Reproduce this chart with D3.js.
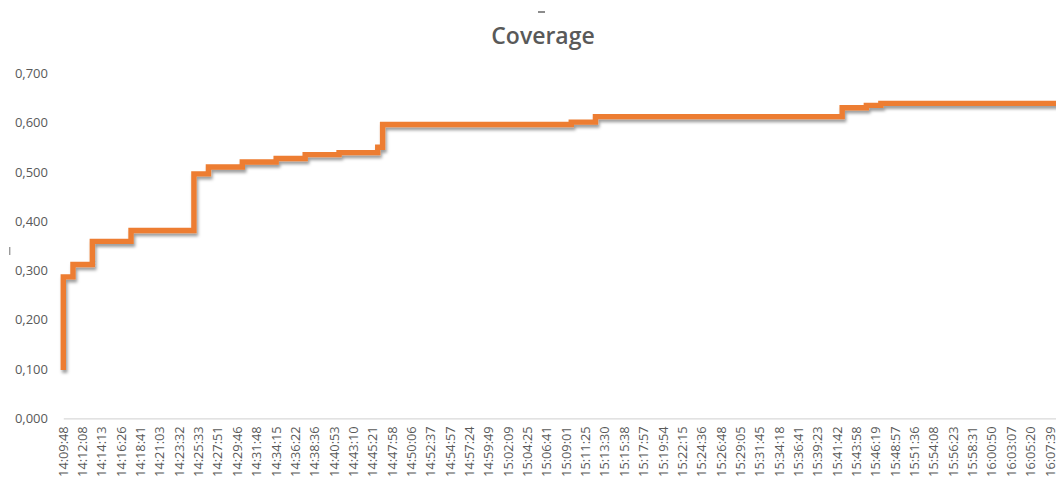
<!DOCTYPE html>
<html>
<head>
<meta charset="utf-8">
<script src="https://cdn.jsdelivr.net/npm/d3@7"></script>
<style>
  html, body { margin: 0; padding: 0; background: #fff; }
  svg { display: block; overflow: hidden; }
  text { font-family: "Open Sans", "Segoe UI", sans-serif; fill: #595959; }
</style>
</head>
<body>
<svg id="chart" width="1056" height="482"></svg>
<script>
// Timestamps printed on the category axis (one every four samples)
const timeLabels = [
  "14:09:48", "14:12:08", "14:14:13", "14:16:26", "14:18:41", "14:21:03",
  "14:23:32", "14:25:33", "14:27:51", "14:29:46", "14:31:48", "14:34:15",
  "14:36:22", "14:38:36", "14:40:53", "14:43:10", "14:45:21", "14:47:58",
  "14:50:06", "14:52:37", "14:54:57", "14:57:24", "14:59:49", "15:02:09",
  "15:04:25", "15:06:41", "15:09:01", "15:11:25", "15:13:30", "15:15:38",
  "15:17:57", "15:19:54", "15:22:15", "15:24:36", "15:26:48", "15:29:05",
  "15:31:45", "15:34:18", "15:36:41", "15:39:23", "15:41:42", "15:43:58",
  "15:46:19", "15:48:57", "15:51:36", "15:54:08", "15:56:23", "15:58:31",
  "16:00:50", "16:03:07", "16:05:20", "16:07:39"
];

// Samples between two printed timestamps
const samplesPerLabel = 4;

// Coverage samples, one row per printed timestamp
const coverage = [
  0.098, 0.287, 0.287, 0.312,
  0.312, 0.312, 0.312, 0.359,
  0.359, 0.359, 0.359, 0.359,
  0.359, 0.359, 0.359, 0.381,
  0.381, 0.381, 0.381, 0.381,
  0.381, 0.381, 0.381, 0.381,
  0.381, 0.381, 0.381, 0.381,
  0.496, 0.496, 0.496, 0.510,
  0.510, 0.510, 0.510, 0.510,
  0.510, 0.510, 0.520, 0.520,
  0.520, 0.520, 0.520, 0.520,
  0.520, 0.527, 0.527, 0.527,
  0.527, 0.527, 0.527, 0.535,
  0.535, 0.535, 0.535, 0.535,
  0.535, 0.535, 0.539, 0.539,
  0.539, 0.539, 0.539, 0.539,
  0.539, 0.539, 0.550, 0.596,
  0.596, 0.596, 0.596, 0.596,
  0.596, 0.596, 0.596, 0.596,
  0.596, 0.596, 0.596, 0.596,
  0.596, 0.596, 0.596, 0.596,
  0.596, 0.596, 0.596, 0.596,
  0.596, 0.596, 0.596, 0.596,
  0.596, 0.596, 0.596, 0.596,
  0.596, 0.596, 0.596, 0.596,
  0.596, 0.596, 0.596, 0.596,
  0.596, 0.596, 0.601, 0.601,
  0.601, 0.601, 0.601, 0.612,
  0.612, 0.612, 0.612, 0.612,
  0.612, 0.612, 0.612, 0.612,
  0.612, 0.612, 0.612, 0.612,
  0.612, 0.612, 0.612, 0.612,
  0.612, 0.612, 0.612, 0.612,
  0.612, 0.612, 0.612, 0.612,
  0.612, 0.612, 0.612, 0.612,
  0.612, 0.612, 0.612, 0.612,
  0.612, 0.612, 0.612, 0.612,
  0.612, 0.612, 0.612, 0.612,
  0.612, 0.612, 0.612, 0.612,
  0.612, 0.612, 0.612, 0.612,
  0.612, 0.612, 0.630, 0.630,
  0.630, 0.630, 0.630, 0.635,
  0.635, 0.635, 0.639, 0.639,
  0.639, 0.639, 0.639, 0.639,
  0.639, 0.639, 0.639, 0.639,
  0.639, 0.639, 0.639, 0.639,
  0.639, 0.639, 0.639, 0.639,
  0.639, 0.639, 0.639, 0.639,
  0.639, 0.639, 0.639, 0.639,
  0.639, 0.639, 0.639, 0.639,
  0.639, 0.639, 0.639, 0.639,
  0.639, 0.639, 0.639, 0.639
];

// Value axis ticks
const yTicks = [0, 0.1, 0.2, 0.3, 0.4, 0.5, 0.6, 0.7];

const chartTitle = "Coverage";

const svg = d3.select("#chart");

// Plot frame (the right side runs past the visible page)
const plot = { left: 63.3, right: 1064.7, top: 73.3, bottom: 418.3 };

const x = d3.scaleLinear()
  .domain([0, coverage.length - 1])
  .range([plot.left, plot.right]);

const y = d3.scaleLinear()
  .domain([0, 0.7])
  .range([plot.bottom, plot.top]);

const locale = d3.formatLocale({ decimal: ",", thousands: ".", grouping: [3], currency: ["", "€"] });
const fmt = locale.format(".3f");

// Soft drop shadow beneath the series line
const defs = svg.append("defs");
const shadow = defs.append("filter")
  .attr("id", "lineShadow")
  .attr("x", "-5%").attr("y", "-20%")
  .attr("width", "110%").attr("height", "140%");
shadow.append("feDropShadow")
  .attr("dx", 1.5).attr("dy", 3)
  .attr("stdDeviation", 1.8)
  .attr("flood-color", "#000")
  .attr("flood-opacity", 0.38);

// Title
svg.append("text")
  .attr("x", 543)
  .attr("y", 44)
  .attr("text-anchor", "middle")
  .style("font-size", "23px")
  .style("font-weight", "600")
  .text(chartTitle);

// Small cropped marks at the top and left edge
svg.append("rect").attr("x", 538).attr("y", 11).attr("width", 7).attr("height", 2).attr("fill", "#8c8c8c");
svg.append("rect").attr("x", 9).attr("y", 247).attr("width", 1.4).attr("height", 8).attr("fill", "#9a9a9a");

// Value axis labels
const yAxis = d3.axisLeft(y)
  .tickValues(yTicks)
  .tickFormat(fmt)
  .tickSize(0)
  .tickPadding(0);

const yG = svg.append("g")
  .attr("transform", `translate(48,0)`)
  .call(yAxis);
yG.select(".domain").remove();
yG.selectAll("text")
  .style("font-size", "13px")
  .style("font-family", "\"Open Sans\", sans-serif")
  .attr("fill", "#595959");

// Category axis
const labelTicks = timeLabels.map((d, i) => i * samplesPerLabel);
const xAxis = d3.axisBottom(x)
  .tickValues(labelTicks)
  .tickFormat((d, i) => timeLabels[i])
  .tickSize(0)
  .tickPadding(0);

const xG = svg.append("g")
  .attr("transform", `translate(0,${plot.bottom})`)
  .call(xAxis);
xG.select(".domain")
  .attr("stroke", "#d9d9d9")
  .attr("stroke-width", 1.2);
xG.selectAll("text")
  .style("font-size", "12.8px")
  .style("font-family", "\"Open Sans\", sans-serif")
  .attr("fill", "#595959")
  .attr("text-anchor", "end")
  .attr("transform", "rotate(-90)")
  .attr("x", -8)
  .attr("y", 0)
  .attr("dy", "0.3em");

// Coverage line: each sample's level is reached at the previous sample
const line = d3.line()
  .x((d, i) => x(i))
  .y(d => y(d))
  .curve(d3.curveStepBefore);

svg.append("path")
  .datum(coverage)
  .attr("d", line)
  .attr("fill", "none")
  .attr("stroke", "#ED7D31")
  .attr("stroke-width", 5.4)
  .attr("stroke-linejoin", "miter")
  .attr("stroke-linecap", "butt")
  .attr("filter", "url(#lineShadow)");
</script>
</body>
</html>
